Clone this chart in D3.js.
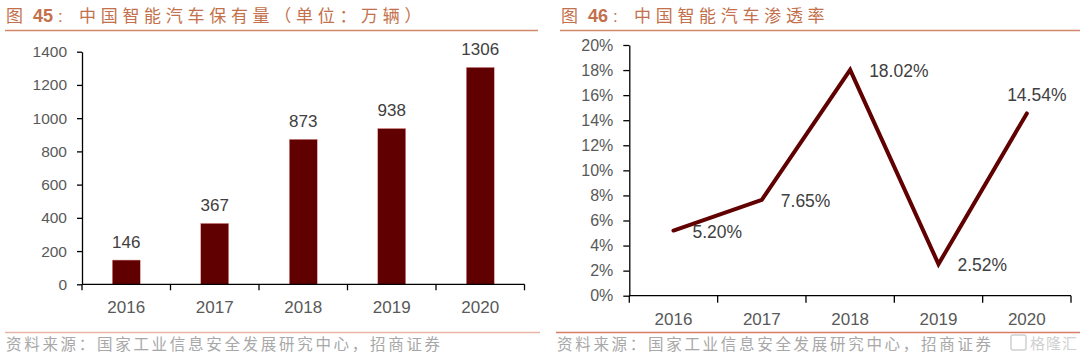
<!DOCTYPE html>
<html><head><meta charset="utf-8">
<script src="https://cdn.jsdelivr.net/npm/d3@7"></script>
<style>
html,body{margin:0;padding:0;background:#fff;}
svg{display:block;}
text{font-family:"Liberation Sans",Arial,sans-serif;}
.cjk{font-family:"Noto Sans CJK SC",sans-serif;}
</style></head>
<body>
<svg id="c" width="1080" height="355"></svg>
<script>
// ---- data ----
const years = ["2016","2017","2018","2019","2020"];
const ownership = [146, 367, 873, 938, 1306];          // 万辆
const penetration = [0.0520, 0.0765, 0.1802, 0.0252, 0.1454];
const ownershipTicks = [0,200,400,600,800,1000,1200,1400];
const penetrationTicks = [0,0.02,0.04,0.06,0.08,0.10,0.12,0.14,0.16,0.18,0.20];
const penLabelSide = ["right","right","right","right","top"];
const title1 = "中国智能汽车保有量（单位：万辆）";
const title2 = "中国智能汽车渗透率";
const source = "资料来源：国家工业信息安全发展研究中心，招商证券";

const svg = d3.select("#c");
const TXT = "#595959", DARK = "#600000", TITLE = "#c3704c";

function header(x0, num, title, lineX1){
  const t = svg.append("text").attr("y", 22).attr("class","cjk")
    .attr("fill", TITLE).style("font-size","17px");
  t.append("tspan").attr("x", x0).text("图");
  t.append("tspan").attr("x", x0+27).style("font-family","Liberation Sans, Arial").style("font-weight","bold").style("font-size","18px").text(num);
  t.append("tspan").attr("x", x0+52).style("font-family","Liberation Sans, Arial").style("font-size","17px").text(":");
  t.append("tspan").attr("x", x0+73).style("letter-spacing","4.7px").text(title);
  svg.append("line").attr("x1", x0-1).attr("x2", lineX1).attr("y1",30.5).attr("y2",30.5)
    .attr("stroke","#d4886c").attr("stroke-width",1.6);
}
function footer(x0, x1, lineColor){
  svg.append("line").attr("x1", x0).attr("x2", x1).attr("y1",332.5).attr("y2",332.5)
    .attr("stroke",lineColor).attr("stroke-width",1.6);
  svg.append("text").attr("class","cjk").attr("x", x0+1).attr("y", 350)
    .attr("fill","#a8a8a8").style("font-size","15.5px").style("letter-spacing","2.7px").text(source);
}

// ---------- Left chart ----------
header(6, "45", title1, 538);
footer(5, 540, "#e6b5a6");
{
  const x = d3.scaleBand().domain(years).range([82, 524.5]);
  const y = d3.scaleLinear().domain([0,1400]).range([284.3, 51.7]);
  const g = svg.append("g");
  const ya = d3.axisLeft(y).tickValues(ownershipTicks).tickSize(5).tickSizeOuter(0).tickPadding(10).tickFormat(d3.format("d"));
  const yg = g.append("g").attr("transform","translate(82,0)").call(ya);
  yg.select(".domain").attr("stroke","#000").attr("stroke-width",1.3);
  yg.selectAll(".tick line").attr("stroke","#000").attr("stroke-width",1.3);
  yg.selectAll("text").attr("fill",TXT).style("font-size","15.5px").style("font-family","Liberation Sans, Arial");

  g.selectAll("rect.bar").data(ownership).join("rect").attr("class","bar")
    .attr("x",(d,i)=>x(years[i])+x.bandwidth()/2-14).attr("width",28)
    .attr("y",d=>y(d)).attr("height",d=>y(0)-y(d))
    .attr("fill",DARK).attr("stroke","#e8a0a0").attr("stroke-width",0.5);
  g.selectAll("text.val").data(ownership).join("text").attr("class","val")
    .attr("x",(d,i)=>x(years[i])+x.bandwidth()/2).attr("y",d=>y(d)-12.5)
    .attr("text-anchor","middle").attr("fill","#404040").style("font-size","17px").text(d=>d);

  // x axis
  g.append("line").attr("x1",x.range()[0]).attr("x2",x.range()[1]).attr("y1",y(0)).attr("y2",y(0))
    .attr("stroke","#000").attr("stroke-width",1.3);
  const bounds = years.map(v=>x(v)).concat([x.range()[1]]);
  g.selectAll("line.xt").data(bounds).join("line").attr("class","xt")
    .attr("x1",d=>d).attr("x2",d=>d).attr("y1",y(0)).attr("y2",y(0)+6)
    .attr("stroke","#000").attr("stroke-width",1.3);
  g.selectAll("text.xl").data(years).join("text").attr("class","xl")
    .attr("x",d=>x(d)+x.bandwidth()/2).attr("y",312.5).attr("text-anchor","middle")
    .attr("fill",TXT).style("font-size","17px").text(d=>d);
}

// ---------- Right chart ----------
header(561, "46", title2, 1080);
footer(556, 1080, "#d97d66");
{
  const x = d3.scaleBand().domain(years).range([629.3, 1071]);
  const y = d3.scaleLinear().domain([0,0.2]).range([295.7, 45]);
  const g = svg.append("g");
  const ya = d3.axisLeft(y).tickValues(penetrationTicks).tickSize(6).tickSizeOuter(0).tickPadding(10).tickFormat(d3.format(".0%"));
  const yg = g.append("g").attr("transform","translate(629.3,0)").call(ya);
  yg.select(".domain").attr("stroke","#000").attr("stroke-width",1.3);
  yg.selectAll(".tick line").attr("stroke","#000").attr("stroke-width",1.3);
  yg.selectAll("text").attr("fill",TXT).style("font-size","16px").style("font-family","Liberation Sans, Arial");

  g.append("line").attr("x1",x.range()[0]).attr("x2",x.range()[1]).attr("y1",y(0)).attr("y2",y(0))
    .attr("stroke","#000").attr("stroke-width",1.3);
  const bounds = years.map(v=>x(v)).concat([x.range()[1]]);
  g.selectAll("line.xt").data(bounds).join("line").attr("class","xt")
    .attr("x1",d=>d).attr("x2",d=>d).attr("y1",y(0)).attr("y2",y(0)+7)
    .attr("stroke","#000").attr("stroke-width",1.3);
  g.selectAll("text.xl").data(years).join("text").attr("class","xl")
    .attr("x",d=>x(d)+x.bandwidth()/2).attr("y",325).attr("text-anchor","middle")
    .attr("fill",TXT).style("font-size","17px").text(d=>d);

  const cx = (i)=>x(years[i])+x.bandwidth()/2;
  const line = d3.line().x((d,i)=>cx(i)).y(d=>y(d));
  g.append("path").datum(penetration).attr("d",line).attr("fill","none")
    .attr("stroke",DARK).attr("stroke-width",4).attr("stroke-linejoin","miter").attr("stroke-linecap","round");

  g.selectAll("text.val").data(penetration).join("text").attr("class","val")
    .attr("x",(d,i)=>penLabelSide[i]==="top" ? cx(i)+10 : cx(i)+19)
    .attr("y",(d,i)=>penLabelSide[i]==="top" ? y(d)-12 : y(d)+7)
    .attr("text-anchor",(d,i)=>penLabelSide[i]==="top" ? "middle" : "start")
    .attr("fill","#404040").style("font-size","17.5px").text(d=>d3.format(".2%")(d));
}

// watermark
svg.append("text").attr("class","cjk").attr("x",1030).attr("y",349).attr("fill","#d0d0d0")
  .style("font-size","15px").style("letter-spacing","1px").text("格隆汇");
svg.append("rect").attr("x",1011).attr("y",335).attr("width",15).attr("height",15).attr("rx",2)
  .attr("fill","none").attr("stroke","#d0d0d0").attr("stroke-width",1.5);
</script>
</body></html>
